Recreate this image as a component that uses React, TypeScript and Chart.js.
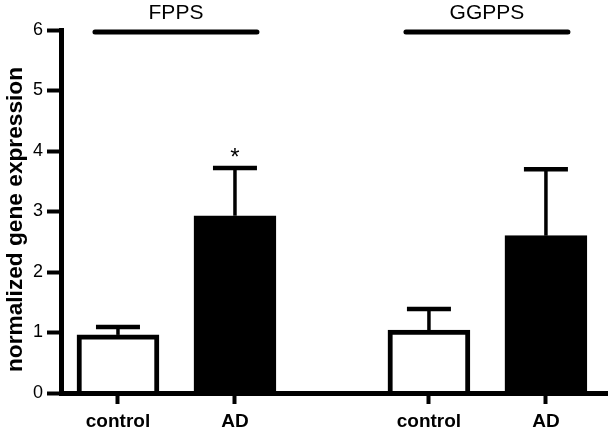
import React, { useEffect, useRef } from "react";
import { Chart, registerables } from "chart.js";

Chart.register(...registerables);

// ---- data ----
const categories = ["control", "AD", "control", "AD"];
const groupOfBar = [0, 0, 1, 1];
const groups = ["FPPS", "GGPPS"];
const means = [0.96, 2.93, 1.04, 2.6];
const sems = [0.13, 0.79, 0.35, 1.1];
const significance = ["", "*", "", ""];
const yTickValues = [0, 1, 2, 3, 4, 5, 6];
const yTitle = "normalized gene expression";

// ---- layout (not data) ----
const GROUP_SPACING = 2.658;
const memberIndex = categories.map((_, i) => groupOfBar.slice(0, i).filter((g) => g === groupOfBar[i]).length);
const xPositions = categories.map((_, i) => groupOfBar[i] * GROUP_SPACING + memberIndex[i]);
const FONT = '"Liberation Sans", Arial, Helvetica, sans-serif';

const overlay = {
  id: "overlay",
  afterDraw(chart: any) {
    const { ctx, chartArea } = chart;
    const x = chart.scales.x;
    const y = chart.scales.y;
    ctx.save();
    ctx.strokeStyle = "#000";
    ctx.fillStyle = "#000";
    // error bars (upper only)
    means.forEach((m, i) => {
      const cx = x.getPixelForValue(xPositions[i]);
      const top = y.getPixelForValue(m);
      const cap = y.getPixelForValue(m + sems[i]);
      ctx.lineCap = "butt";
      ctx.lineWidth = 3.5;
      ctx.beginPath();
      ctx.moveTo(cx, top);
      ctx.lineTo(cx, cap);
      ctx.stroke();
      ctx.lineWidth = 4.5;
      ctx.beginPath();
      ctx.moveTo(cx - 22, cap);
      ctx.lineTo(cx + 22, cap);
      ctx.stroke();
      if (significance[i]) {
        ctx.font = `24px ${FONT}`;
        ctx.textAlign = "center";
        ctx.textBaseline = "alphabetic";
        ctx.fillText(significance[i], cx, cap - 3);
      }
    });
    // group lines and labels
    groups.forEach((g, gi) => {
      const idx = categories.map((_, i) => i).filter((i) => groupOfBar[i] === gi);
      const x1 = x.getPixelForValue(xPositions[idx[0]]) - 23;
      const x2 = x.getPixelForValue(xPositions[idx[idx.length - 1]]) + 22;
      const ly = chartArea.top + 2;
      ctx.lineWidth = 5;
      ctx.lineCap = "round";
      ctx.beginPath();
      ctx.moveTo(x1, ly);
      ctx.lineTo(x2, ly);
      ctx.stroke();
      ctx.font = `21px ${FONT}`;
      ctx.textAlign = "center";
      ctx.textBaseline = "alphabetic";
      ctx.fillText(g, (x1 + x2) / 2, ly - 13.5);
    });
    // y axis title
    ctx.translate(16, (chartArea.top + chartArea.bottom) / 2 + 8);
    ctx.rotate(-Math.PI / 2);
    ctx.font = `bold 22.7px ${FONT}`;
    ctx.textAlign = "center";
    ctx.textBaseline = "middle";
    ctx.fillText(yTitle, 0, 0);
    ctx.restore();
  },
};

export default function App() {
  const ref = useRef<HTMLCanvasElement | null>(null);
  useEffect(() => {
    if (!ref.current) return;
    const chart = new Chart(ref.current, {
      type: "bar",
      data: {
        datasets: [
          {
            data: means.map((m, i) => ({ x: xPositions[i], y: m })),
            backgroundColor: categories.map((c) => (c === "AD" ? "#000" : "#fff")),
            borderColor: "#000",
            borderWidth: 5,
            borderSkipped: "start",
            barThickness: 82,
          },
        ],
      },
      options: {
        animation: false,
        responsive: true,
        maintainAspectRatio: false,
        layout: { padding: { top: 30, right: 3, left: 0, bottom: 0 } },
        plugins: { legend: { display: false }, tooltip: { enabled: false } },
        scales: {
          x: {
            type: "linear",
            offset: false,
            min: -0.487,
            max: 4.18,
            afterFit: (s: any) => {
              s.height = 37;
            },
            afterBuildTicks: (s: any) => {
              s.ticks = xPositions.map((v) => ({ value: v }));
            },
            grid: {
              offset: false,
              drawOnChartArea: false,
              drawTicks: true,
              tickLength: 11,
              tickWidth: 4,
              tickColor: "#000",
            },
            border: { display: true, color: "#000", width: 5, z: 1 },
            ticks: {
              autoSkip: false,
              maxRotation: 0,
              padding: 6,
              color: "#000",
              font: { family: FONT, size: 19, weight: "bold" },
              callback: (_v: any, i: number) => categories[i],
            },
          },
          y: {
            min: 0,
            max: 6,
            afterFit: (s: any) => {
              s.width = 61;
            },
            afterBuildTicks: (s: any) => {
              s.ticks = yTickValues.map((v) => ({ value: v }));
            },
            grid: {
              drawOnChartArea: false,
              drawTicks: true,
              tickLength: 14,
              tickWidth: 4,
              tickColor: "#000",
            },
            border: { display: true, color: "#000", width: 5, z: 1 },
            ticks: {
              padding: 4,
              color: "#000",
              font: { family: FONT, size: 18 },
            },
          },
        },
      },
      plugins: [overlay],
    });
    return () => chart.destroy();
  }, []);
  return (
    <div style={{ position: "fixed", left: 0, top: 0, width: 610, height: 430, background: "#fff" }}>
      <canvas ref={ref} />
    </div>
  );
}
